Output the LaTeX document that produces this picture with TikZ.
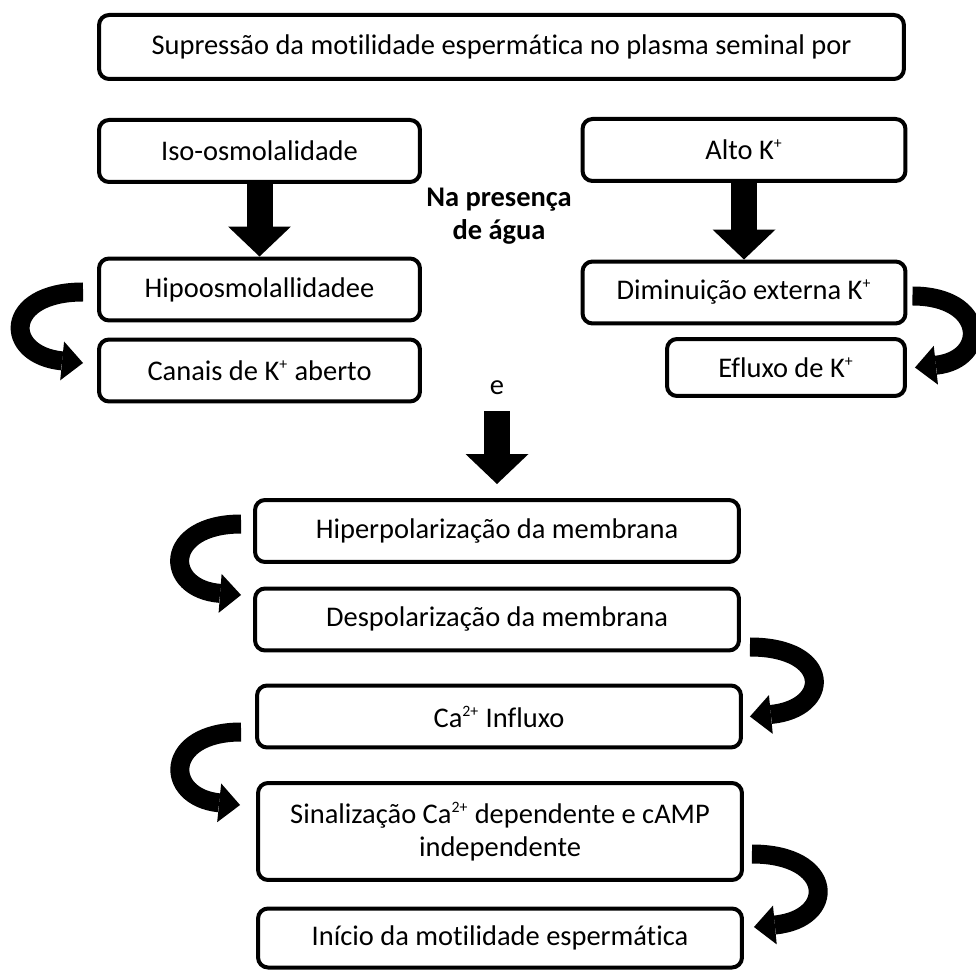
\documentclass[tikz,border=0pt]{standalone}
\usepackage{fontspec}
\setmainfont{Carlito}[Ligatures={NoCommon}]
\usepackage{tikz}
\usetikzlibrary{arrows.meta}

\newcommand{\ionsup}[1]{\textsuperscript{\fontsize{9}{9}\selectfont #1}}

\begin{document}
\begin{tikzpicture}[x=0.02cm, y=-0.02cm,
    font=\fontsize{16.2}{19}\selectfont,
    box/.style={rectangle, rounded corners=0.2cm, draw, line width=0.08cm, align=center, inner sep=0pt, text=black, minimum height=1.24cm},
    leftbox/.style={box, minimum width=6.42cm},
    rightbox/.style={box, minimum width=6.46cm},
    midbox/.style={box, minimum width=9.68cm},
    boldtext/.style={font=\fontsize{16.2}{19}\selectfont\bfseries, align=center},
    bigarrow/.style={line width=0.52cm, -{Triangle[length=0.6cm, width=1.26cm, line width=0pt]}},
    bendarrow/.style={line width=0.38cm, -{Triangle[length=0.42cm, width=0.78cm, line width=0pt]}}]
    \useasboundingbox (0,0) rectangle (976,972);

    % top
    \node[box, minimum width=16.10cm, minimum height=1.28cm] (title) at (501.5,47) {Supressão da motilidade espermática no plasma seminal por};

    % left and right columns
    \node[leftbox]  (iso)    at (259.5,151)   {Iso-osmolalidade};
    \node[rightbox] (alto)   at (744,150)     {Alto K\ionsup{+}};
    \node[leftbox]  (hipo)   at (259.5,289.5) {Hipoosmolallidadee};
    \node[leftbox]  (canais) at (259.5,370.5) {Canais de K\ionsup{+} aberto};
    \node[rightbox] (dimin)  at (744,292.5)   {Diminuição externa K\ionsup{+}};
    \node[box, minimum width=4.76cm, minimum height=1.14cm] (efluxo) at (786,367.5) {Efluxo de K\ionsup{+}};

    \node[boldtext] (agua) at (499,216) {Na presença\\de água};
    \node (e) at (497,388) {e};

    % lower column
    \node[midbox] (hiper)  at (497,531)   {Hiperpolarização da membrana};
    \node[midbox] (desp)   at (497,619.5) {Despolarização da membrana};
    \node[midbox] (ca)     at (499,716.5) {Ca\ionsup{2+} Influxo};
    \node[midbox, minimum height=1.94cm] (sinal) at (500,831.5) {Sinalização Ca\ionsup{2+} dependente e cAMP\\independente};
    \node[midbox, minimum height=1.18cm] (inicio) at (500,938) {Início da motilidade espermática};

    % block arrows
    \draw[bigarrow] (iso) -- (hipo);
    \draw[bigarrow] (alto) -- (dimin);
    \draw[bigarrow, shorten <=0.2cm, shorten >=0.28cm] (e) -- (hiper);

    % bent arrows
    \draw[bendarrow] ([xshift=-0.28cm, yshift=-0.05cm]hipo.west) .. controls +(-80,0) and +(-80,-8) .. ([xshift=-0.28cm, yshift=0.15cm]canais.west);
    \draw[bendarrow] ([xshift=0.1cm, yshift=-0.07cm]dimin.east) .. controls +(74,0) and +(74,-8) .. ([xshift=0.16cm]efluxo.east);
    \draw[bendarrow] ([xshift=-0.24cm, yshift=0.14cm]hiper.west) .. controls +(-78,0) and +(-78,-6) .. ([xshift=-0.24cm, yshift=0.49cm]desp.west);
    \draw[bendarrow] ([xshift=0.18cm, yshift=-0.55cm]desp.east) .. controls +(82,0) and +(82,-8) .. ([xshift=0.14cm]ca.east);
    \draw[bendarrow] ([xshift=-0.28cm, yshift=-0.31cm]ca.west) .. controls +(-77,0) and +(-77,-8) .. ([xshift=-0.32cm, yshift=0.53cm]sinal.west);
    \draw[bendarrow] ([xshift=0.16cm, yshift=-0.45cm]sinal.east) .. controls +(83,0) and +(83,-8) .. ([xshift=0.2cm, yshift=0.22cm]inicio.east);
\end{tikzpicture}
\end{document}
